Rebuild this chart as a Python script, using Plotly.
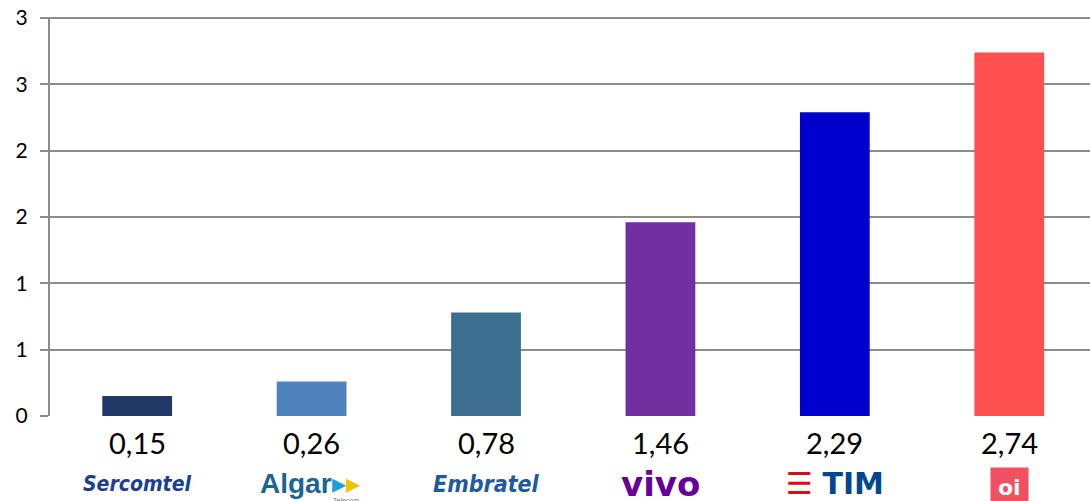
import plotly.graph_objects as go

operators = ["Sercomtel", "Algar", "Embratel", "Vivo", "TIM", "Oi"]
values = [0.15, 0.26, 0.78, 1.46, 2.29, 2.74]
value_labels = ["0,15", "0,26", "0,78", "1,46", "2,29", "2,74"]
bar_colors = ["#1f3864", "#4f81bd", "#3c6e8f", "#7030a0", "#0000cc", "#ff5050"]
y_tickvals = [0, 0.5, 1, 1.5, 2, 2.5, 3]
y_ticktext = ["0", "1", "1", "2", "2", "3", "3"]

fig = go.Figure()
fig.add_trace(go.Bar(
    x=operators, y=values, marker=dict(color=bar_colors, line=dict(width=0)),
    width=0.4, hoverinfo="skip", showlegend=False,
))

fig.update_layout(
    width=1090, height=501,
    margin=dict(l=50, r=0, t=17, b=85, autoexpand=False),
    paper_bgcolor="white", plot_bgcolor="white",
    font=dict(family="Lato, Open Sans, sans-serif", color="black"),
    xaxis=dict(
        range=[-0.5, 5.463], showticklabels=False, showgrid=False,
        zeroline=False, showline=False, ticks="",
    ),
    yaxis=dict(
        range=[0, 3.008], tickvals=y_tickvals, ticktext=y_ticktext,
        showgrid=True, gridcolor="#8c8c8c", gridwidth=2,
        showline=True, linecolor="#8c8c8c", linewidth=2,
        ticks="outside", ticklen=8, tickcolor="#8c8c8c", tickwidth=2,
        tickfont=dict(size=21, color="black", family="Lato, sans-serif"),
        zeroline=False, ticklabelstandoff=8,
    ),
)

# value labels under the bars
for op, lab in zip(operators, value_labels):
    fig.add_annotation(x=op, xref="x", yref="paper", y=-0.066, yanchor="middle",
                       text=lab, showarrow=False,
                       font=dict(size=29, color="black", family="Liberation Sans Narrow, Lato, sans-serif"))

# logo-like texts
logo_y = -0.17
fig.add_annotation(x="Sercomtel", xref="x", yref="paper", y=logo_y, yanchor="middle",
                   text="<b><i>Sercomtel</i></b>", showarrow=False,
                   font=dict(size=21, color="#1d3e93", family="DejaVu Sans Condensed, Liberation Sans Narrow, sans-serif"))
fig.add_annotation(x="Algar", xref="x", yref="paper", y=logo_y, yanchor="middle", xshift=-2,
                   text="<b>Algar</b><span style='color:#1aa0d8'>▸</span><span style='color:#f2c100'>▸</span>",
                   showarrow=False,
                   font=dict(size=28, color="#1b6594", family="Liberation Sans Narrow, Liberation Sans, sans-serif"))
fig.add_annotation(x="Algar", xref="x", yref="paper", y=-0.212, yanchor="middle", xshift=34,
                   text="Telecom", showarrow=False,
                   font=dict(size=7, color="#777777", family="Liberation Sans, sans-serif"))
fig.add_annotation(x="Embratel", xref="x", yref="paper", y=logo_y, yanchor="middle",
                   text="<b><i>Embratel</i></b>", showarrow=False,
                   font=dict(size=23, color="#1f5aa0", family="DejaVu Sans Condensed, Liberation Sans Narrow, sans-serif"))
fig.add_annotation(x="Vivo", xref="x", yref="paper", y=logo_y, yanchor="middle",
                   text="<b>vivo</b>", showarrow=False,
                   font=dict(size=34, color="#660099", family="DejaVu Sans, sans-serif"))
fig.add_annotation(x="TIM", xref="x", yref="paper", y=logo_y, yanchor="middle",
                   text="<span style='color:#e30613'>☰</span> <b>TIM</b>", showarrow=False,
                   font=dict(size=30, color="#004691", family="DejaVu Sans, sans-serif"))
fig.add_annotation(x="Oi", xref="x", yref="paper", y=logo_y - 0.01, yanchor="middle",
                   text="<b>oi</b>", showarrow=False, bgcolor="#f0505f",
                   borderpad=7,
                   font=dict(size=22, color="white", family="DejaVu Sans, sans-serif"))

fig.write_html("out.html", config={"displayModeBar": False},
               post_script="document.body.style.margin='0';")
